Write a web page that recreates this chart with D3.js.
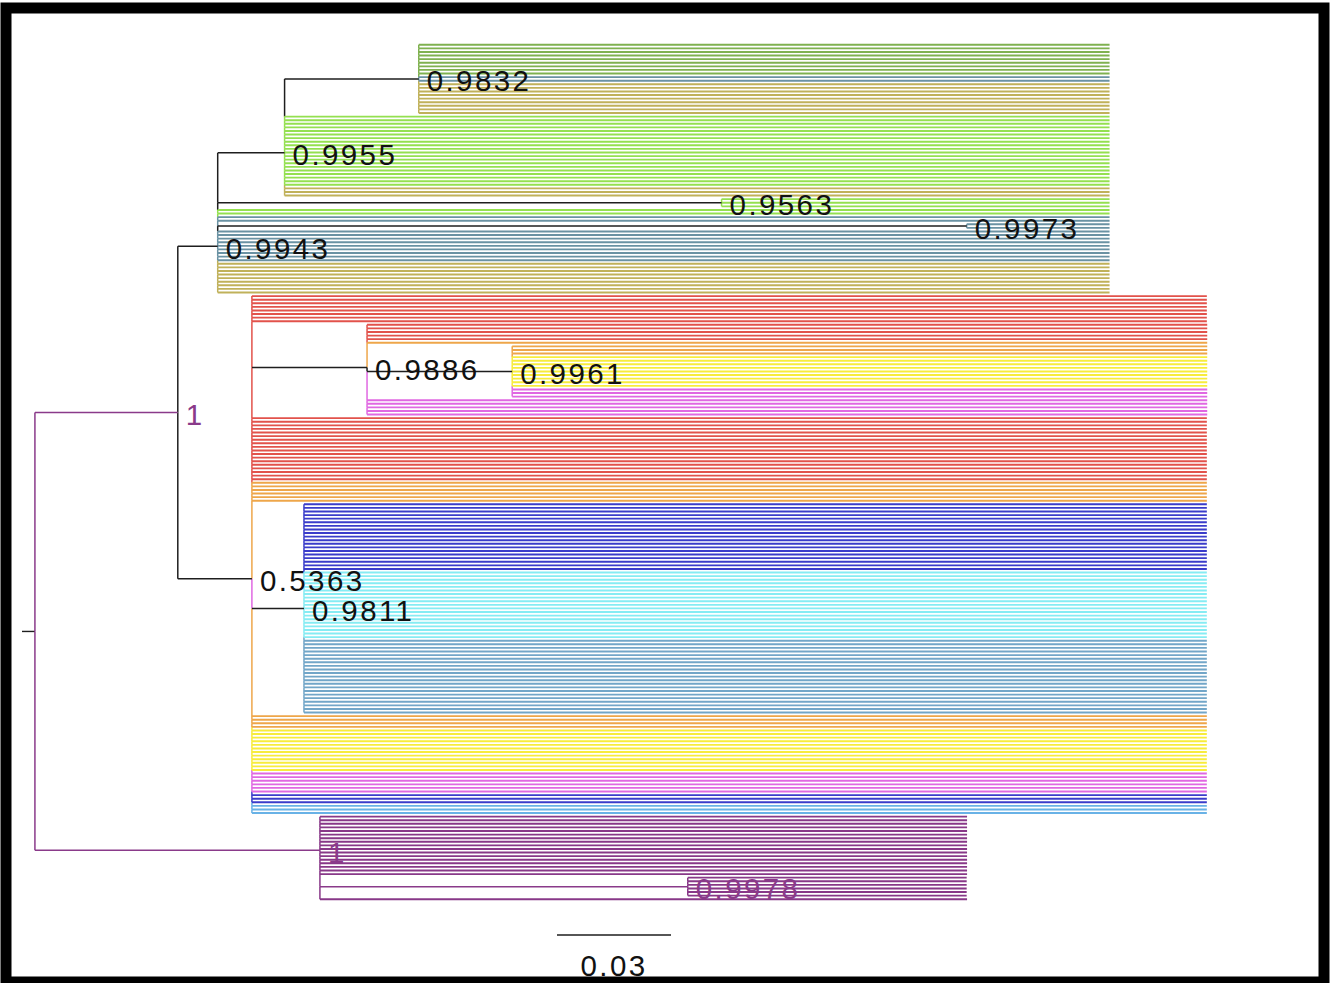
<!DOCTYPE html>
<html>
<head>
<meta charset="utf-8">
<script src="https://cdn.jsdelivr.net/npm/d3@7"></script>
<style>
  html, body { margin: 0; padding: 0; background: #fff; }
  svg { display: block; }
  text { font-family: "Liberation Sans", Arial, Helvetica, sans-serif; }
</style>
</head>
<body>
<svg id="chart" width="1330" height="983"></svg>
<script>
// ---- Data -----------------------------------------------------------
// Trait categories used to colour the tips.
const traits = ["T1", "T2", "T3", "T4", "T5", "T6", "T7", "T8", "T9", "T10", "T11", "T12", "T13"];

// Tip runs: [trait, number of tips, tip branch length]
const runsC      = [["T1", 9, 0.1818], ["T2", 2, 0.1818], ["T3", 9, 0.1818]];
const runsB      = [["T4", 20, 0.2171], ["T3", 3, 0.2171]];
const runsD      = [["T4", 3, 0.1021]];
const runsAmid   = [["T4", 2, 0.2347], ["T2", 2, 0.2347]];
const runsE      = [["T2", 2, 0.0376]];
const runsAlow   = [["T2", 9, 0.2347], ["T3", 9, 0.2347]];
const runsFtop   = [["T5", 8, 0.2513]];
const runsGtop   = [["T5", 5, 0.2211], ["T6", 1, 0.2211]];
const runsH      = [["T6", 3, 0.1829], ["T7", 9, 0.1829], ["T8", 3, 0.1829]];
const runsGlow   = [["T8", 5, 0.2211]];
const runsFmid   = [["T5", 18, 0.2513], ["T6", 6, 0.2513]];
const runsI      = [["T9", 19, 0.2376], ["T10", 19, 0.2376], ["T11", 21, 0.2376]];
const runsFlow   = [["T6", 4, 0.2513], ["T7", 12, 0.2513], ["T8", 6, 0.2513], ["T9", 3, 0.2513], ["T13", 3, 0.2513]];
const runsPtop   = [["T12", 17, 0.1703]];
const runsQ      = [["T12", 6, 0.0734]];
const runsPlow   = [["T12", 1, 0.1703]];

// Clades: name, branch length, posterior support, ordered children
const cladeC = { name: "C", len: 0.0353, support: "0.9832", children: [...runsC] };
const cladeB = { name: "B", len: 0.0176, support: "0.9955", children: [cladeC, ...runsB] };
const cladeD = { name: "D", len: 0.1326, support: "0.9563", children: [...runsD] };
const cladeE = { name: "E", len: 0.1971, support: "0.9973", children: [...runsE] };
const cladeA = { name: "A", len: 0.0105, support: "0.9943",
                 children: [cladeB, cladeD, ...runsAmid, cladeE, ...runsAlow] };
const cladeH = { name: "H", len: 0.0382, support: "0.9961", children: [...runsH] };
const cladeG = { name: "G", len: 0.0303, support: "0.9886", children: [...runsGtop, cladeH, ...runsGlow] };
const cladeI = { name: "I", len: 0.0137, support: "0.9811", children: [...runsI] };
const cladeF = { name: "F", len: 0.0195, support: "0.5363",
                 children: [...runsFtop, cladeG, ...runsFmid, cladeI, ...runsFlow] };
const ingroup = { name: "ingroup", len: 0.0376, support: "1", children: [cladeA, cladeF] };
const cladeQ = { name: "Q", len: 0.0968, support: "0.9978", children: [...runsQ] };
const cladeP = { name: "P", len: 0.0750, support: "1", children: [...runsPtop, cladeQ, ...runsPlow] };
const treeSpec = { name: "root", len: 0.0034, children: [ingroup, cladeP] };

const scaleBarValue = 0.03;
const scaleBarLabel = "0.03";

// ---- Styles ---------------------------------------------------------
const traitColor = d3.scaleOrdinal()
  .domain(traits)
  .range(["#7fb150", "#6a92a3", "#c0b15a", "#94e050", "#e2524b", "#eea64a",
          "#f7ec3c", "#e068e2", "#3a3cca", "#86ecf3", "#72a6c8", "#883888", "#69b2e6"]);
const purple = "#8a3a8a";
const branchColor = { ingroup: purple, P: purple, Q: purple };   // horizontal branch colour
const stemColor = { G: "#e2524b", I: "#e068e2" };                 // vertical connector colour
const labelColor = { ingroup: purple, P: purple, Q: purple };
const ink = "#1e1e1e";

// ---- Build hierarchy --------------------------------------------------
function build(spec) {
  const kids = [];
  for (const c of spec.children) {
    if (Array.isArray(c)) {
      for (let i = 0; i < c[1]; i++) kids.push({ trait: c[0], len: c[2] });
    } else {
      kids.push(build(c));
    }
  }
  return { name: spec.name, len: spec.len, support: spec.support, children: kids };
}

const root = d3.hierarchy(build(treeSpec), d => d.children && d.children.length ? d.children : null);
const leafCount = root.leaves().length;
d3.cluster().size([leafCount - 1, 1]).separation(() => 1)(root);

// Cumulative distance from the origin
root.each(n => { n.dist = (n.parent ? n.parent.dist : 0) + n.data.len; });

const x = d3.scaleLinear().domain([0, scaleBarValue]).range([22, 136]);
const y = d3.scaleLinear().domain([0, leafCount - 1]).range([43, 901]);
root.each(n => { n.px = x(n.dist); n.py = y(n.x); });

const colourOf = n => n.children ? (branchColor[n.data.name] || ink) : traitColor(n.data.trait);
const stemOf = n => n.children ? (stemColor[n.data.name] || branchColor[n.data.name] || ink) : traitColor(n.data.trait);

const svg = d3.select("#chart");
svg.append("rect").attr("width", 1330).attr("height", 983).attr("fill", "#fff");

const gTree = svg.append("g");

// Root stub
gTree.append("line")
  .attr("x1", x(0)).attr("x2", root.px)
  .attr("y1", root.py).attr("y2", root.py)
  .attr("stroke", ink).attr("stroke-width", 1.4);

// Vertical connectors, split between siblings
const verticals = [];
root.each(n => {
  if (!n.children) return;
  const kids = n.children.slice().sort((a, b) => a.py - b.py);
  kids.forEach((c, i) => {
    let end;
    if (c.py < n.py) {
      end = i + 1 < kids.length ? Math.min(kids[i + 1].py, n.py) : n.py;
    } else {
      end = i > 0 ? Math.max(kids[i - 1].py, n.py) : n.py;
    }
    verticals.push({ x: n.px, y1: c.py, y2: end, color: stemOf(c) });
  });
});
gTree.append("g").selectAll("line").data(verticals).join("line")
  .attr("x1", d => d.x).attr("x2", d => d.x)
  .attr("y1", d => d.y1).attr("y2", d => d.y2)
  .attr("stroke", d => d.color).attr("stroke-width", 1.5);

// Tip branches
gTree.append("g").selectAll("line").data(root.leaves()).join("line")
  .attr("x1", d => d.parent.px).attr("x2", d => d.px)
  .attr("y1", d => d.py).attr("y2", d => d.py)
  .attr("stroke", d => traitColor(d.data.trait))
  .attr("stroke-width", 1.9);

// Internal branches
const internal = root.descendants().filter(n => n.children && n.parent);
gTree.append("g").selectAll("line").data(internal).join("line")
  .attr("x1", d => d.parent.px).attr("x2", d => d.px)
  .attr("y1", d => d.py).attr("y2", d => d.py)
  .attr("stroke", d => colourOf(d)).attr("stroke-width", 1.5);

// Support values
gTree.append("g").selectAll("text").data(internal.filter(n => n.data.support)).join("text")
  .attr("x", d => d.px + 8)
  .attr("y", d => d.py + 2)
  .attr("dominant-baseline", "central")
  .attr("font-size", 29.5)
  .attr("letter-spacing", 2.4)
  .attr("fill", d => labelColor[d.data.name] || "#111")
  .text(d => d.data.support);

// Scale bar
const barLeft = 557;
const barLen = x(scaleBarValue) - x(0);
svg.append("line")
  .attr("x1", barLeft).attr("x2", barLeft + barLen)
  .attr("y1", 935).attr("y2", 935)
  .attr("stroke", ink).attr("stroke-width", 1.6);
svg.append("text")
  .attr("x", barLeft + barLen / 2).attr("y", 965)
  .attr("text-anchor", "middle").attr("dominant-baseline", "central")
  .attr("font-size", 29.5).attr("letter-spacing", 2.4)
  .attr("fill", "#111")
  .text(scaleBarLabel);

// Frame
svg.append("rect")
  .attr("x", 6).attr("y", 8).attr("width", 1318).attr("height", 974)
  .attr("fill", "none").attr("stroke", "#000").attr("stroke-width", 11);
</script>
</body>
</html>
